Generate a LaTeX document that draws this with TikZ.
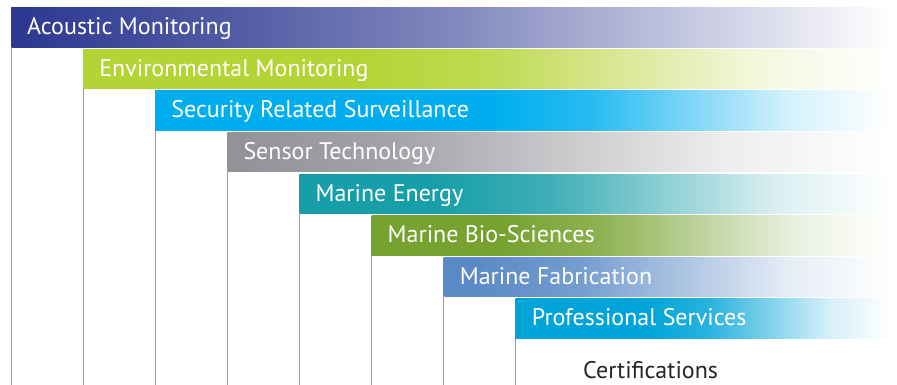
\documentclass[tikz,border=0pt]{standalone}
\usepackage{fontspec}
\setmainfont{PT Sans}
\definecolor{acoustic}{RGB}{43,55,144}
\definecolor{environ}{RGB}{181,211,52}
\definecolor{security}{RGB}{0,174,239}
\definecolor{sensor}{RGB}{145,146,151}
\definecolor{energy}{RGB}{23,158,168}
\definecolor{bio}{RGB}{118,162,47}
\definecolor{fabric}{RGB}{90,138,198}
\definecolor{services}{RGB}{0,164,216}
\tikzset{
  bartext/.style={anchor=base west, inner sep=0pt, text=white,
    font=\fontsize{24}{27}\selectfont},
  plaintext/.style={anchor=base west, inner sep=0pt, text=black!85,
    font=\fontsize{24}{27}\selectfont},
  rule/.style={draw=black!40, line width=0.9pt}
}

\begin{document}
\begin{tikzpicture}[x=1pt,y=-1pt]
  \newcommand{\stepx}{72.1}
  \newcommand{\stepy}{41.5}
  \newcommand{\barh}{39.5}
  \newcommand{\barend}{890}
  \useasboundingbox (0,0) rectangle (897,385);

  \foreach \i/\name/\col/\fade/\ma/\mb/\mc in {
      1/Acoustic Monitoring/acoustic/11/82/60/30,
      2/Environmental Monitoring/environ/363/84/50/16,
      3/Security Related Surveillance/security/493/84/50/16,
      4/Sensor Technology/sensor/228/84/50/16,
      5/Marine Energy/energy/432/84/50/16,
      6/Marine Bio-Sciences/bio/497/84/50/16,
      7/Marine Fabrication/fabric/476/84/50/16,
      8/Professional Services/services/648/84/50/16} {
    \pgfmathsetmacro{\barx}{11+\stepx*(\i-1)}
    \pgfmathsetmacro{\bary}{8+\stepy*(\i-1)}
    \pgfmathsetmacro{\pz}{25+(\fade-\barx)/(\barend-\barx)*50}
    \pgfmathsetmacro{\pa}{\pz+(75-\pz)*0.25}
    \pgfmathsetmacro{\pb}{\pz+(75-\pz)*0.5}
    \pgfmathsetmacro{\pc}{\pz+(75-\pz)*0.75}
    \pgfdeclarehorizontalshading{fade\i}{100bp}{
      color(0bp)=(\col); color(\pz bp)=(\col);
      color(\pa bp)=(\col!\ma!white); color(\pb bp)=(\col!\mb!white);
      color(\pc bp)=(\col!\mc!white); color(75bp)=(white);
      color(100bp)=(white)}
    \shade[shading=fade\i] (\barx,\bary) rectangle (\barend,\bary+\barh);
    \node[bartext] (bar-\i) at (\barx+16,\bary+27) {\name};
    \coordinate (top-\i) at (\barx,\bary+\barh);
    \coordinate (foot-\i) at (\barx,385);
    \draw[rule] (top-\i) -- (foot-\i);
  }

  \node[plaintext] (cert) at (583,378) {Certifications};

\end{tikzpicture}
\end{document}
